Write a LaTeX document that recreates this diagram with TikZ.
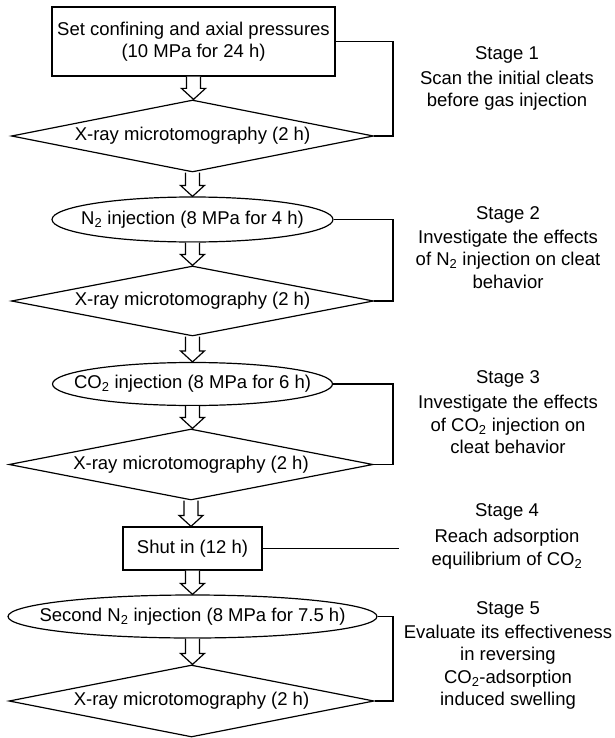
\documentclass[tikz,border=0pt]{standalone}
\usepackage{fontspec}
\setmainfont{Liberation Sans}
\usetikzlibrary{shapes.geometric,calc}
\newcommand{\hollowarrow}[2]{%
  \path[link, draw, fill=white] let \p1=(#1.south), \p2=(#2.north) in
    (\x1-7pt,\y1) -- (\x1-7pt,\y2+11pt) -- (\x1-12pt,\y2+11pt) -- (\x1,\y2)
    -- (\x1+12pt,\y2+11pt) -- (\x1+7pt,\y2+11pt) -- (\x1+7pt,\y1);}
\begin{document}
\begin{tikzpicture}[x=1pt,y=-1pt,
  every node/.style={font=\fontsize{18.5}{22.5}\selectfont},
  flow/.style={draw, line width=1.2pt, fill=white, inner sep=0pt},
  boxnode/.style={flow, rectangle, align=center},
  ovalnode/.style={flow, ellipse},
  dianode/.style={flow, diamond, shape aspect=5},
  stagetext/.style={align=center, anchor=north, inner sep=0pt},
  link/.style={line width=1.2pt, line join=miter}
]
\useasboundingbox (0,0) rectangle (614,738);
\fill[white] (0,0) rectangle (614,738);

\node[boxnode, minimum width=283pt, minimum height=69pt] (b1) at (193.5,41.5)
  {Set confining and axial pressures\\(10 MPa for 24 h)};
\node[dianode, minimum width=362pt, minimum height=72pt] (d1) at (192.5,136)
  {\makebox[0pt]{X-ray microtomography (2 h)}};
\node[ovalnode, minimum width=281pt, minimum height=45pt] (e1) at (192.5,219.5)
  {\makebox[0pt]{N\textsubscript{2} injection (8 MPa for 4 h)}};
\node[dianode, minimum width=362pt, minimum height=70pt] (d2) at (192.5,301)
  {\makebox[0pt]{X-ray microtomography (2 h)}};
\node[ovalnode, minimum width=280pt, minimum height=43pt] (e2) at (192.5,384)
  {\makebox[0pt]{CO\textsubscript{2} injection (8 MPa for 6 h)}};
\node[dianode, minimum width=364pt, minimum height=71pt] (d3) at (191,464.5)
  {\makebox[0pt]{X-ray microtomography (2 h)}};
\node[boxnode, minimum width=139pt, minimum height=43pt] (b4) at (192.5,548.5)
  {Shut in (12 h)};
\node[ovalnode, minimum width=369pt, minimum height=43pt] (e5) at (192.5,616.5)
  {\makebox[0pt]{Second N\textsubscript{2} injection (8 MPa for 7.5 h)}};
\node[dianode, minimum width=365pt, minimum height=72pt] (d5) at (191.5,701)
  {\makebox[0pt]{X-ray microtomography (2 h)}};

\hollowarrow{b1}{d1}
\hollowarrow{d1}{e1}
\hollowarrow{e1}{d2}
\hollowarrow{d2}{e2}
\hollowarrow{e2}{d3}
\hollowarrow{d3}{b4}
\hollowarrow{b4}{e5}
\hollowarrow{e5}{d5}

\coordinate (rail) at (393,0);
\coordinate (end4) at (399,0);
\draw[link] (b1.east) -- (b1.east -| rail) |- (d1.east);
\draw[link] (e1.east) -- (e1.east -| rail) |- (d2.east);
\draw[link] (e2.east) -- (e2.east -| rail) |- (d3.east);
\draw[link] (b4.east) -- (b4.east -| end4);
\draw[link] (e5.east) -- (e5.east -| rail) |- (d5.east);

\node[stagetext] (s1) at (507,46)
  {Stage 1\\[2.5pt]Scan the initial cleats\\before gas injection};
\node[stagetext] (s2) at (508,206)
  {Stage 2\\[1.5pt]Investigate the effects\\of N\textsubscript{2} injection on cleat\\behavior};
\node[stagetext] (s3) at (508,370)
  {Stage 3\\[3pt]Investigate the effects\\of CO\textsubscript{2} injection on\\cleat behavior};
\node[stagetext] (s4) at (507,503)
  {Stage 4\\[4pt]Reach adsorption\\equilibrium of CO\textsubscript{2}};
\node[stagetext] (s5) at (508,601)
  {Stage 5\\[1.5pt]Evaluate its effectiveness\\in reversing\\CO\textsubscript{2}-adsorption\\induced swelling};
\end{tikzpicture}
\end{document}
